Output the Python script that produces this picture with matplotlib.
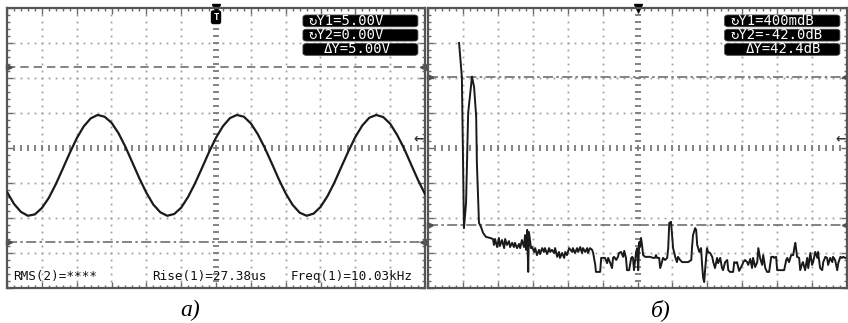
import numpy as np
import matplotlib.pyplot as plt
from matplotlib.patches import FancyBboxPatch

# a) time trace, 25 us/div, 1 V/div
t_us = list(range(0, 301, 5))
u_v = [1.43, 1.09, 0.86, 0.75, 0.79, 0.97, 1.26, 1.65, 2.09, 2.54,
       2.96, 3.30, 3.53, 3.63, 3.58, 3.41, 3.11, 2.72, 2.27, 1.82,
       1.41, 1.07, 0.85, 0.75, 0.80, 0.98, 1.29, 1.68, 2.12, 2.57,
       2.98, 3.31, 3.54, 3.63, 3.58, 3.39, 3.08, 2.69, 2.25, 1.80,
       1.39, 1.06, 0.84, 0.75, 0.81, 1.00, 1.31, 1.70, 2.15, 2.59,
       3.00, 3.33, 3.55, 3.63, 3.57, 3.38, 3.06, 2.67, 2.22, 1.77,
       1.37]
cursors_a = [5.0, 0.0]
readout_a = ["\u21bbY1=5.00V", "\u21bbY2=0.00V", "\u0394Y=5.00V"]
meas_a = ["RMS(2)=****", "Rise(1)=27.38us", "Freq(1)=10.03kHz"]

# б) spectrum, x in divisions, 10 dB/div
f_div = [0.89, 0.97, 1.03, 1.09, 1.15, 1.26, 1.32, 1.38, 1.40, 1.46, 1.52, 1.58, 1.66, 1.78, 1.86,
         1.89, 1.92, 1.98, 2.03, 2.06, 2.12, 2.18, 2.21, 2.26, 2.32, 2.35, 2.41, 2.46, 2.49, 2.55,
         2.61, 2.64, 2.69, 2.75, 2.78, 2.81, 2.84, 2.87, 2.89, 2.95, 2.98, 3.04, 3.07, 3.12, 3.18,
         3.21, 3.27, 3.32, 3.35, 3.41, 3.47, 3.50, 3.55, 3.61, 3.64, 3.70, 3.75, 3.78, 3.84, 3.90,
         3.93, 3.98, 4.04, 4.13, 4.15, 4.21, 4.27, 4.30, 4.36, 4.41, 4.44, 4.50, 4.56, 4.58, 4.64,
         4.70, 4.73, 4.79, 4.81, 4.93, 4.96, 5.07, 5.13, 5.16, 5.21, 5.27, 5.30, 5.33, 5.39, 5.44,
         5.47, 5.53, 5.59, 5.62, 5.67, 5.70, 5.76, 5.82, 5.85, 5.87, 5.90, 5.96, 5.99, 6.02, 6.05,
         6.07, 6.10, 6.13, 6.16, 6.22, 6.36, 6.45, 6.50, 6.53, 6.56, 6.62, 6.65, 6.70, 6.73, 6.79,
         6.85, 6.88, 6.91, 6.96, 6.99, 7.02, 7.08, 7.13, 7.16, 7.22, 7.28, 7.45, 7.54, 7.56, 7.59,
         7.65, 7.68, 7.71, 7.77, 7.82, 7.85, 7.88, 7.91, 7.94, 7.99, 8.02, 8.08, 8.14, 8.17, 8.22,
         8.28, 8.31, 8.37, 8.42, 8.45, 8.51, 8.57, 8.60, 8.65, 8.74, 8.77, 8.83, 8.85, 8.91, 9.00,
         9.03, 9.08, 9.14, 9.17, 9.23, 9.28, 9.31, 9.37, 9.43, 9.46, 9.51, 9.57, 9.60, 9.66, 9.71,
         9.77, 9.83, 9.89, 9.91, 9.97, 10.00, 10.20, 10.26, 10.29, 10.34, 10.40, 10.46, 10.49, 10.52, 10.54,
         10.57, 10.63, 10.66, 10.72, 10.74, 10.80, 10.86, 10.89, 10.95, 11.00, 11.03, 11.09, 11.15, 11.17, 11.23,
         11.29, 11.32, 11.38, 11.43, 11.46, 11.52, 11.58, 11.60, 11.66, 11.72, 11.75, 11.81, 11.86, 11.89, 11.95]
level_db = [10.0, 0.3, -42.9, -35.7, -10.0, 0.4, -2.6, -11.1, -24.3, -41.4, -42.6, -44.3, -45.4, -45.7, -46.0,
            -47.7, -46.0, -48.3, -45.7, -48.0, -46.3, -48.6, -46.0, -47.7, -46.6, -48.3, -47.1, -48.3, -47.1, -48.6,
            -47.4, -48.6, -46.3, -48.3, -44.9, -49.1, -43.4, -55.4, -44.0, -48.6, -48.3, -49.7, -48.6, -50.6, -49.1,
            -50.3, -48.6, -49.7, -48.6, -50.3, -48.6, -49.7, -49.1, -50.0, -48.6, -51.1, -49.7, -51.4, -50.0, -51.4,
            -49.7, -50.6, -48.6, -49.7, -48.6, -50.0, -48.6, -49.7, -48.3, -50.0, -48.6, -49.7, -48.6, -50.0, -48.6,
            -49.1, -50.0, -53.4, -55.4, -55.4, -51.4, -51.4, -52.9, -51.4, -52.6, -54.3, -51.4, -51.1, -52.0, -51.1,
            -50.0, -49.7, -51.1, -49.4, -51.4, -54.9, -54.9, -51.4, -51.1, -51.4, -54.9, -49.7, -48.6, -54.9, -46.9,
            -48.3, -45.7, -47.7, -50.6, -51.1, -51.1, -51.4, -51.4, -50.6, -51.4, -51.4, -54.3, -52.6, -51.4, -52.0,
            -51.4, -48.6, -41.4, -41.1, -44.9, -48.6, -51.1, -52.6, -51.1, -52.0, -52.6, -52.6, -52.0, -48.6, -44.9,
            -42.9, -43.4, -47.7, -49.7, -48.6, -53.4, -57.1, -58.3, -54.3, -48.6, -49.7, -50.0, -51.1, -52.6, -54.3,
            -51.4, -52.9, -51.4, -54.3, -54.9, -52.6, -52.0, -54.9, -55.4, -55.4, -52.6, -52.9, -52.6, -55.1, -53.4,
            -52.6, -52.0, -52.6, -53.4, -51.7, -54.3, -51.4, -54.0, -52.6, -48.6, -51.4, -53.4, -50.6, -54.3, -55.4,
            -55.4, -51.1, -51.1, -51.4, -51.1, -54.9, -54.9, -52.0, -51.4, -52.6, -50.6, -50.6, -48.6, -47.1, -48.6,
            -51.1, -51.4, -54.9, -52.9, -52.6, -54.9, -51.4, -54.3, -50.0, -53.4, -52.6, -49.7, -51.4, -49.7, -54.3,
            -54.9, -52.6, -51.1, -51.4, -53.4, -51.4, -52.6, -51.1, -52.0, -54.9, -52.9, -51.1, -51.4, -51.1, -51.4]
cursors_b = [0.4, -42.0]
readout_b = ["\u21bbY1=400mdB", "\u21bbY2=-42.0dB", "\u0394Y=42.4dB"]

MONO = ["DejaVu Sans Mono", "DejaVu Sans"]
W, H = 848, 323


def screen(ax, xlim, ylim):
    ax.set_xlim(xlim)
    ax.set_ylim(ylim)
    tr = ax.transAxes
    sx = np.linspace(0, 1, 61)
    sy = np.linspace(0, 1, 41)
    for k in range(1, 12):
        if k != 6:
            ax.plot(np.full(sy.size, k / 12), sy, ls="none", marker="s", ms=1.3,
                    mec="none", color="#a0a0a0", transform=tr)
    for k in range(1, 8):
        if k != 4:
            ax.plot(sx, np.full(sx.size, k / 8), ls="none", marker="s", ms=1.3,
                    mec="none", color="#a0a0a0", transform=tr)
    ax.plot(np.full(sy.size, 0.5), sy, ls="none", marker="_", ms=4, mew=1.3,
            color="#7a7a7a", transform=tr)
    ax.plot(sx, np.full(sx.size, 0.5), ls="none", marker="|", ms=4, mew=1.3,
            color="#7a7a7a", transform=tr)
    ax.set_xticks(np.linspace(xlim[0], xlim[1], 13))
    ax.set_xticks(np.linspace(xlim[0], xlim[1], 61), minor=True)
    ax.set_yticks(np.linspace(ylim[0], ylim[1], 9))
    ax.set_yticks(np.linspace(ylim[0], ylim[1], 41), minor=True)
    ax.tick_params(which="both", direction="in", top=True, right=True,
                   labelbottom=False, labelleft=False, color="#6a6a6a", width=1)
    ax.tick_params(which="major", length=4)
    ax.tick_params(which="minor", length=2.5)
    for s in ax.spines.values():
        s.set_color("#555555")
        s.set_linewidth(1.6)
    # channel marker at the right edge
    ax.text(0.997, 0.532, "\u2190", transform=tr, ha="right", va="center",
            fontsize=9, color="#333333", fontweight="bold")


def readout(ax, rows):
    tr = ax.transAxes
    for i, txt in enumerate(rows):
        yc = 0.954 - i * 0.051
        ax.add_patch(FancyBboxPatch((0.708, yc - 0.021), 0.275, 0.042,
                                    boxstyle="round,pad=0,rounding_size=0.008",
                                    fc="black", ec="#444444", lw=0.6,
                                    transform=tr, zorder=5))
        x0 = 0.758 if txt.startswith("\u0394") else 0.722
        ax.text(x0, yc, txt, transform=tr, ha="left", va="center",
                fontsize=10, color="white", family=MONO, zorder=6)


def cursor_lines(ax, levels, styles):
    bt = ax.get_yaxis_transform()
    for lev, st in zip(levels, styles):
        ax.axhline(lev, color="#707070", lw=1.2, ls=st)
        ax.plot([0.004], [lev], marker=">", ms=4, color="#505050", transform=bt, clip_on=False)
        ax.plot([0.996], [lev], marker="<", ms=4, color="#505050", transform=bt, clip_on=False)


fig = plt.figure(figsize=(W / 100, H / 100), dpi=100)

# а)
ax1 = fig.add_axes([7 / W, 35 / H, 418 / W, 280 / H])
screen(ax1, (0, 300), (-1.314, 6.686))
cursor_lines(ax1, cursors_a, [(0, (5, 3)), (0, (6, 2, 1.5, 2))])
ax1.plot(t_us, u_v, color="#1a1a1a", lw=1.6, zorder=4)
readout(ax1, readout_a)
for txt, x in zip(meas_a, [0.014, 0.347, 0.679]):
    ax1.text(x, 0.04, txt, transform=ax1.transAxes, ha="left", va="center",
             fontsize=9.1, family=MONO, color="#111111")
ax1.plot([0.5], [1.0], marker="v", ms=6, color="black", transform=ax1.transAxes, clip_on=False)
ax1.text(0.5, 0.967, "T", transform=ax1.transAxes, ha="center", va="center",
         fontsize=6.5, fontweight="bold", color="white", family=MONO,
         bbox=dict(boxstyle="round,pad=0.2", fc="black", ec="black"))

# б)
ax2 = fig.add_axes([428 / W, 35 / H, 419 / W, 280 / H])
screen(ax2, (0, 12), (-60, 20))
cursor_lines(ax2, cursors_b, [(0, (6, 2, 1.5, 2)), (0, (6, 2, 1.5, 2))])
ax2.plot(f_div, level_db, color="#1a1a1a", lw=1.4, zorder=4)
readout(ax2, readout_b)
ax2.plot([0.5], [1.0], marker="v", ms=6, color="black", transform=ax2.transAxes, clip_on=False)

fig.text(190 / W, 13 / H, "\u0430)", ha="center", va="center", fontsize=17,
         style="italic", family="Liberation Serif")
fig.text(661 / W, 13 / H, "\u0431)", ha="center", va="center", fontsize=17,
         style="italic", family="Liberation Serif")

fig.savefig("out.png", dpi=100)
